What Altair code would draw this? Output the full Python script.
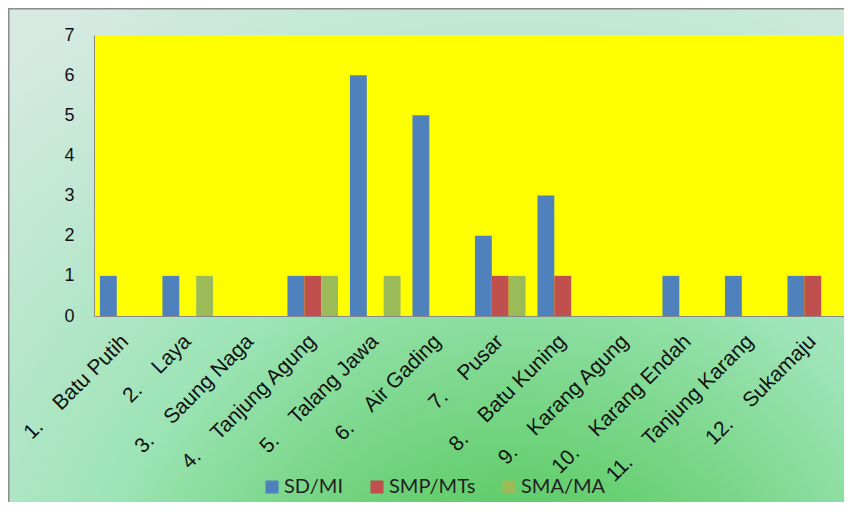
import altair as alt
import pandas as pd

NB = "\u00a0" * 4
villages = ["Batu Putih", "Laya", "Saung Naga", "Tanjung Agung", "Talang Jawa",
            "Air Gading", "Pusar", "Batu Kuning", "Karang Agung", "Karang Endah",
            "Tanjung Karang", "Sukamaju"]
categories = [f"{i + 1}.{NB}{v}" for i, v in enumerate(villages)]
series = ["SD/MI", "SMP/MTs", "SMA/MA"]
sd_mi = [1, 1, 0, 1, 6, 5, 2, 3, 0, 1, 1, 1]
smp_mts = [0, 0, 0, 1, 0, 0, 1, 1, 0, 0, 0, 1]
sma_ma = [0, 1, 0, 1, 1, 0, 1, 0, 0, 0, 0, 0]
colors = ["#4F81BD", "#C0504D", "#9BBB59"]

rows = []
for s, vals in zip(series, [sd_mi, smp_mts, sma_ma]):
    for c, v in zip(categories, vals):
        rows.append({"Desa": c, "Jenjang": s, "Jumlah": v})
df = pd.DataFrame(rows)

W, H = 750, 281
PAD = {"left": 86, "top": 27, "right": 0, "bottom": 186}

grad = alt.Gradient(
    gradient="radial",
    x1=0.6, y1=1.0, r1=0, x2=0.6, y2=1.0, r2=0.95,
    stops=[
        alt.GradientStop(color="#3cc044", offset=0),
        alt.GradientStop(color="#66cf70", offset=0.25),
        alt.GradientStop(color="#9de4b6", offset=0.55),
        alt.GradientStop(color="#bfe7d2", offset=0.8),
        alt.GradientStop(color="#d6eae2", offset=1),
    ],
)

one = pd.DataFrame({"k": [0]})
bg = alt.Chart(one).mark_rect(fill=grad, stroke="#8c8c8c", strokeWidth=3).encode(
    x=alt.value(-PAD["left"]), x2=alt.value(W + 10),
    y=alt.value(-PAD["top"]), y2=alt.value(H + PAD["bottom"] + 10),
)
plot_bg = alt.Chart(one).mark_rect(fill="#FFFF00").encode(
    x=alt.value(0), x2=alt.value(W), y=alt.value(0), y2=alt.value(H)
)

bars = alt.Chart(df).mark_bar().encode(
    x=alt.X("Desa:N", sort=categories, title=None,
            scale=alt.Scale(paddingInner=0.19, paddingOuter=0.095),
            axis=alt.Axis(labelAngle=315, labelAlign="right", labelBaseline="middle",
                          labelPadding=22, ticks=False, labelFont="Liberation Sans",
                          labelFontSize=21, labelColor="#111111", domainColor="#888888",
                          labelLimit=400, zindex=1)),
    xOffset=alt.XOffset("Jenjang:N", sort=series),
    y=alt.Y("Jumlah:Q", title=None,
            scale=alt.Scale(domain=[0, 7], nice=False),
            axis=alt.Axis(values=list(range(8)), grid=False, ticks=False, labelPadding=20,
                          labelFont="Liberation Sans", labelFontSize=18,
                          labelColor="#111111", domainColor="#888888", zindex=1)),
    color=alt.Color("Jenjang:N", sort=series,
                    scale=alt.Scale(domain=series, range=colors),
                    legend=alt.Legend(title=None, orient="none", direction="horizontal",
                                      legendX=168, legendY=442,
                                      symbolType="square", symbolSize=170,
                                      symbolStrokeWidth=0, symbolOpacity=1,
                                      labelFont="Lato", labelFontSize=20,
                                      labelColor="#1f1f1f", columnPadding=23,
                                      labelOffset=2)),
)

chart = alt.layer(bg, plot_bg, bars).properties(
    width=W, height=H, padding=PAD,
    autosize=alt.AutoSizeParams(type="none"),
).configure_view(stroke=None)

chart.save("out.html", embed_options={"renderer": "svg", "actions": False})
